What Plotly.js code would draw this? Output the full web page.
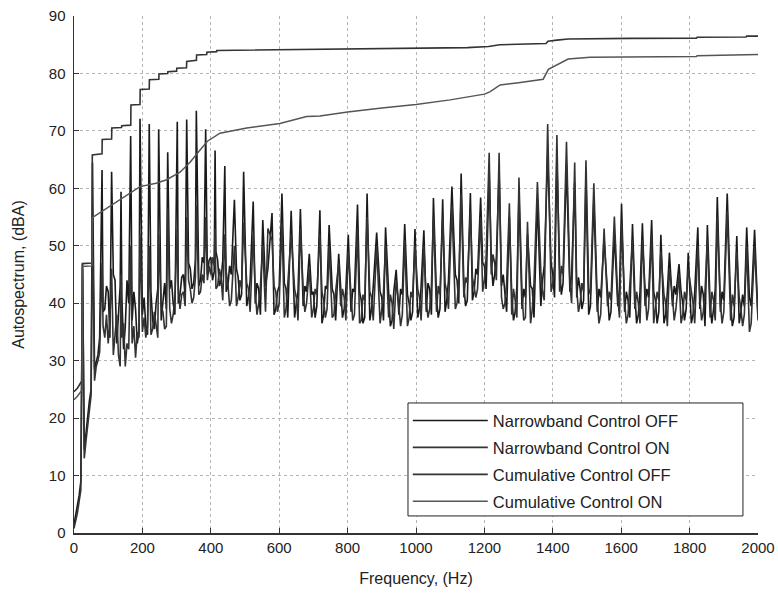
<!DOCTYPE html>
<html>
<head>
<meta charset="utf-8">
<script src="https://cdn.plot.ly/plotly-3.0.1.min.js"></script>
<style>html,body{margin:0;padding:0;background:#fff;}#chart{width:778px;height:596px;}</style>
</head>
<body>
<div id="chart"></div>
<script>
// ---- Data ----
const seriesNames = ["Narrowband Control OFF", "Narrowband Control ON", "Cumulative Control OFF", "Cumulative Control ON"];

// narrowband noise floor: values at 0,10,...,2000 Hz and at the in-between bins 5,15,...,1995 Hz
const binHz = 10;
const floorOff = [
  1.5, 4.8, 9, 14.5, 20.5, 25, 28.5, 31, 36, 39,
  42, 37, 44, 38, 41, 36, 40, 37, 39, 35,
  38, 36, 39.5, 37, 40, 38.5, 41, 39, 42.5, 40,
  44, 41.5, 45, 42.5, 46, 43.5, 46.5, 44, 47, 45,
  48, 45.5, 47.5, 44, 46, 43, 45, 42.5, 44.5, 41.5,
  44, 41, 43.5, 40, 42.5, 39.5, 43, 40.5, 42, 39,
  43, 40, 42.5, 38.5, 41.5, 40, 43.5, 39.5, 42, 38.5,
  42, 39.5, 41, 38, 42.5, 40, 41.5, 38.5, 42, 39,
  41.5, 38.5, 42, 39.5, 40.5, 37.5, 41.5, 39, 42, 38,
  41, 38.5, 42, 37, 40.5, 38, 41.5, 36.5, 40, 38.5,
  42, 39, 41.5, 38.5, 42.5, 40, 41, 39, 43, 40.5,
  43.5, 41, 44, 41.5, 43, 40.5, 44.5, 42, 45, 43,
  46.5, 44, 47.5, 45, 46, 43, 42, 39.5, 41.5, 38.5,
  42, 39, 41, 38, 42.5, 40, 41.5, 44, 45.5, 43,
  45, 42.5, 46, 43.5, 44, 42, 43.5, 41, 42.5, 40.5,
  42, 39.5, 41.5, 38.5, 41, 40, 42, 38.5, 41.5, 39.5,
  41, 38.5, 40.5, 39, 41.5, 38, 40.5, 39.5, 41, 38,
  40.5, 38.5, 41, 38, 40, 39.5, 41.5, 38, 40, 39,
  41, 38, 40.5, 39, 41.5, 37.5, 40, 39, 41, 38.5,
  40.5, 38, 40, 37.5, 40.5, 38.5, 39.5, 37, 39.5, 37.5,
  37.5
];
const midOff = [
  3, 6.5, 12, 17.5, 23, 27, 30, 34, 38.5, 43,
  34, 45, 33, 43, 32, 44, 34, 42, 33, 41,
  41, 34.5, 42, 35.5, 42.5, 37, 43.5, 36.5, 44, 38,
  40, 44.5, 41, 47, 42.5, 47.5, 43, 48, 43.5, 47.5,
  44, 49, 43, 47.5, 42, 46.5, 41.5, 46, 40.5, 45,
  39.5, 44, 38.5, 43.5, 38, 42.5, 38.5, 44, 38, 42,
  38.5, 43.5, 37.5, 42.5, 37.5, 42, 38, 43, 37.5, 41.5,
  37.5, 42.5, 36.5, 43, 38, 42.5, 37, 43, 37.5, 42.5,
  37, 42.5, 37.5, 42, 36.5, 42.5, 37, 43, 37, 42,
  37, 43, 36, 42, 36.5, 42.5, 35.5, 41.5, 37, 41.5,
  37.5, 43, 37, 43.5, 38, 43, 37.5, 43.5, 38.5, 44,
  39.5, 45, 40, 45, 39.5, 45.5, 40.5, 46, 41.5, 47,
  42.5, 48.5, 43, 48, 42, 45, 38.5, 43, 37, 43,
  37.5, 42.5, 36.5, 43, 37.5, 42.5, 39.5, 46.5, 41.5, 47,
  41, 47.5, 41.5, 46, 40.5, 45, 40, 44.5, 39, 43.5,
  38, 43, 37, 42.5, 37.5, 43, 37, 43, 37.5, 42.5,
  37, 42, 37.5, 42.5, 36.5, 42, 37, 42.5, 36.5, 42,
  36.5, 42.5, 36.5, 42, 37, 43, 36.5, 42, 37, 42.5,
  36.5, 42, 37, 43, 36, 42, 36.5, 42.5, 37, 42,
  36, 41.5, 36, 42, 36.5, 41.5, 35.5, 41, 35.5, 36
];
const floorOn = [
  0.8, 3.5, 7.5, 13, 19, 24, 26.5, 30, 33, 34,
  33, 29.5, 35, 31, 34, 29, 32, 33, 30.5, 34,
  35, 34, 37, 35.5, 36.5, 37, 38.5, 36, 39, 38,
  40, 39, 42, 41, 42.5, 41, 44, 42, 43.5, 44,
  45, 46.5, 43, 44.5, 41.5, 43.5, 40.5, 43, 41, 42.5,
  40.5, 42.5, 39, 42, 40, 41.5, 38.5, 41.5, 39.5, 42,
  40, 41.5, 39, 42, 38.5, 41, 39, 42.5, 40, 41,
  39, 41.5, 38.5, 40.5, 39, 42, 38, 40.5, 39.5, 41,
  39.5, 41, 38, 40, 37, 40.5, 38.5, 41, 39, 40,
  39, 40.5, 37.5, 40, 36, 39.5, 38, 40.5, 37.5, 41,
  39.5, 41, 38, 40.5, 39, 42, 38.5, 41.5, 40, 42,
  41, 43, 40, 42.5, 41, 43.5, 41.5, 43, 42.5, 44.5,
  44, 46, 45, 47, 43.5, 41, 40, 42.5, 38, 40.5,
  39.5, 41.5, 37.5, 40.5, 39, 42.5, 43, 42, 44.5, 46,
  43.5, 44.5, 42, 45, 42.5, 43.5, 41, 42.5, 40, 42,
  40, 41.5, 39, 40.5, 38, 41.5, 39.5, 40.5, 38.5, 41,
  39.5, 40.5, 38, 41, 39, 40, 38.5, 41, 39, 40.5,
  39, 40.5, 38.5, 40, 37.5, 41, 39, 40, 38, 40.5,
  39, 40, 38, 41, 38.5, 40, 37.5, 40.5, 39, 40,
  38.5, 40, 37, 39.5, 37.5, 39, 38, 39.5, 36.5, 38,
  37
];
const midOn = [
  2, 5.5, 10.5, 16, 22, 25, 29, 31.5, 36, 38,
  37, 31, 38, 29, 36.5, 33, 29, 36, 35, 31,
  37.5, 36, 34.5, 38.5, 34, 39.5, 35.5, 40, 36.5, 41,
  42.5, 41.5, 39.5, 44, 40, 44.5, 41.5, 45, 41, 46.5,
  48, 42.5, 46, 40.5, 45.5, 39.5, 44.5, 39.5, 44, 39,
  43.5, 38.5, 43, 38, 43, 37.5, 42.5, 37.5, 43, 38.5,
  43, 37.5, 43, 37.5, 42.5, 37, 43.5, 38.5, 42.5, 37.5,
  42.5, 37, 42, 37.5, 42.5, 37.5, 42, 37.5, 42.5, 37,
  42, 37, 42, 36.5, 41.5, 37, 42, 37, 41.5, 36.5,
  42, 36.5, 41.5, 35.5, 41, 36, 42, 36, 42, 37,
  42.5, 37, 42, 37.5, 43, 37.5, 43, 38.5, 43.5, 39,
  44.5, 39, 44, 40, 44.5, 40.5, 44.5, 41, 46, 42,
  48, 43, 48.5, 44, 46, 39, 43.5, 37.5, 42.5, 37.5,
  43, 37, 42, 36.5, 43.5, 39, 45.5, 40.5, 47, 42,
  46.5, 41, 46.5, 41, 45.5, 40, 44.5, 38.5, 43.5, 38.5,
  42.5, 37.5, 42, 36.5, 42.5, 38, 42, 37, 42.5, 37.5,
  42, 36.5, 42.5, 37, 42, 36.5, 42.5, 37, 42, 36.5,
  42, 37, 41.5, 36, 42, 37, 42, 36.5, 42, 37,
  42, 36.5, 42.5, 37, 42, 36, 42, 37, 41.5, 36.5,
  41, 35.5, 41.5, 35.5, 41, 36, 41.5, 35, 40.5, 39
];

// harmonic peaks (Hz) and their levels (dBA)
const harmF = [25, 54, 82, 110, 137.5, 165.7, 193, 220, 247.6, 274, 302, 329.5, 357.7, 385, 412.5, 441, 469, 496,
  524, 552, 567, 579, 608, 635, 662, 688, 719, 746, 774, 802, 829, 857, 885, 911, 942, 967, 997, 1023,
  1051, 1078, 1105, 1132, 1159, 1189, 1214, 1243, 1273, 1301, 1326, 1355, 1385, 1412, 1440, 1464, 1497,
  1520, 1550, 1580, 1601, 1633, 1662, 1689, 1716, 1741, 1769, 1796, 1824, 1852, 1881, 1910, 1938, 1967, 1990];
const peakOff = [46.8, 64.5, 63.2, 62.9, 59.4, 69.1, 72.1, 71.2, 70.3, 66.3, 71.6, 72.0, 73.5, 70.3, 66.6, 63.9, 58.0, 62.9,
  57.7, 54.5, 46, 55.7, 59.1, 56.1, 56.4, 48.6, 56.2, 53.6, 48.6, 51.9, 57.2, 59.1, 52.3, 53.2, 45.8, 53.8, 52.9, 52.7,
  58.3, 58.1, 60.3, 62.6, 59.2, 58.4, 63, 63, 55, 59, 52, 58, 66, 65, 64, 61, 62,
  58, 51, 52, 57.3, 53.8, 53.9, 54.5, 51.9, 48.8, 46.8, 48.8, 53.2, 53.6, 58.5, 59.1, 51.7, 53.2, 52.8];
const peakOn = [46.0, 54, 47, 46, 45, 50, 52, 50, 52, 56.5, 53, 55, 57, 55, 53, 52, 50, 54,
  52, 50, 53, 51, 54, 52, 53, 46, 52, 50, 47, 49, 53, 55, 50, 50, 44, 51, 50, 50,
  55, 55, 57, 59, 56, 55, 66.2, 66.2, 57.4, 61.9, 54.2, 61.1, 71.2, 69.3, 68.1, 64.5, 64.9,
  60.9, 53.0, 55.1, 54, 51, 51, 52, 49, 46, 45, 46, 50, 51, 55, 56, 49, 50, 50];

// cumulative spectra
const cumOffF = [0, 10, 20, 24, 24.5, 53, 53.5, 82, 82.5, 110, 110.5, 139, 139.5, 166, 166.5, 193, 193.5, 220, 220.5,
  248, 248.5, 274, 274.5, 300, 300.5, 329, 329.5, 358, 358.5, 388, 388.5, 417, 417.5, 500, 720, 900, 1000, 1150,
  1212, 1245, 1380, 1386, 1412, 1445, 1626, 1820, 1822, 1965, 1967, 2000];
const cumOff = [24.6, 25.2, 26.2, 26.5, 46.9, 47, 65.8, 66, 68.5, 68.6, 70.5, 70.6, 70.9, 71, 74.5, 74.6, 77.2, 77.3, 78.9,
  79, 79.9, 80, 80.3, 80.4, 80.9, 81, 82.1, 82.3, 83.2, 83.3, 83.7, 83.8, 84, 84.05, 84.2, 84.3, 84.35, 84.5,
  84.7, 85.0, 85.2, 85.6, 85.8, 86.0, 86.1, 86.15, 86.3, 86.35, 86.5, 86.5];
const cumOnF = [0, 10, 20, 24, 24.5, 53, 53.5, 90, 134, 193, 240, 271, 310, 340, 365, 390, 427, 505, 602, 680, 719,
  800, 900, 1000, 1100, 1150, 1200, 1216, 1246, 1300, 1372, 1387, 1411, 1445, 1509, 1626, 1820, 1822, 1889, 1890, 2000];
const cumOn = [23.2, 23.8, 24.6, 25, 46.4, 46.5, 54.9, 56.3, 58, 60.3, 60.9, 61.5, 62.8, 64.6, 66.4, 68.2, 69.6, 70.5, 71.3, 72.5, 72.6,
  73.3, 74.0, 74.6, 75.4, 75.9, 76.4, 76.8, 78.0, 78.4, 79.0, 80.7, 81.5, 82.5, 82.8, 82.9, 82.95, 83.1, 83.15, 83.25, 83.3];

const xTicks = [0, 200, 400, 600, 800, 1000, 1200, 1400, 1600, 1800, 2000];
const yTicks = [0, 10, 20, 30, 40, 50, 60, 70, 80, 90];

// ---- build narrowband lines from floor bins + harmonic peaks ----
// (above ~450 Hz the harmonic peaks in the reference are broader, so more floor bins are covered by each peak)
function buildSpectrum(floorVals, midVals, peakVals) {
  const pts = [];
  const nearPeak = f => harmF.some(h => Math.abs(h - f) < (h > 450 ? 5.5 : 2.5));
  floorVals.forEach((v, i) => { const f = i * binHz; if (!nearPeak(f)) pts.push([f, v]); });
  midVals.forEach((v, i) => { const f = i * binHz + binHz / 2; if (!nearPeak(f)) pts.push([f, v]); });
  harmF.forEach((f, i) => pts.push([f, peakVals[i]]));
  pts.sort((a, b) => a[0] - b[0]);
  return { x: pts.map(p => p[0]), y: pts.map(p => p[1]) };
}
const nbOff = buildSpectrum(floorOff, midOff, peakOff);
const nbOn = buildSpectrum(floorOn, midOn, peakOn);

const FONT = 'Liberation Sans, Arial, Helvetica, sans-serif';

const traces = [
  { x: nbOff.x, y: nbOff.y, name: seriesNames[0], legendgroup: 'a', type: 'scatter', mode: 'lines',
    line: { color: '#1a1a1a', width: 1.6 } },
  { x: nbOn.x, y: nbOn.y, name: seriesNames[1], legendgroup: 'b', type: 'scatter', mode: 'lines',
    line: { color: '#333333', width: 1.6 } },
  { x: cumOffF, y: cumOff, name: seriesNames[2], legendgroup: 'c', type: 'scatter', mode: 'lines',
    line: { color: '#333333', width: 1.6 } },
  { x: cumOnF, y: cumOn, name: seriesNames[3], legendgroup: 'd', type: 'scatter', mode: 'lines',
    line: { color: '#555555', width: 1.5 } }
];

const axisCommon = {
  showline: true, linecolor: '#333', linewidth: 1.5,
  ticks: 'inside', ticklen: 5, tickcolor: '#333', tickwidth: 1,
  showgrid: true, gridcolor: '#b5b5b5', gridwidth: 1, griddash: 'dot',
  zeroline: false, tickfont: { family: FONT, size: 15, color: '#222' }
};

const layout = {
  width: 778, height: 596,
  margin: { l: 74, r: 20, t: 16, b: 63 },
  paper_bgcolor: '#fff', plot_bgcolor: '#fff',
  font: { family: FONT, color: '#222' },
  showlegend: true,
  legend: {
    x: 0.488, y: 0.251, xanchor: 'left', yanchor: 'top',
    bgcolor: 'rgba(0,0,0,0)', borderwidth: 0,
    font: { family: FONT, size: 16.5, color: '#222' },
    itemwidth: 75, tracegroupgap: 2.5
  },
  // legend frame (the legend box in the reference is wider than its entries)
  shapes: [{
    type: 'rect', xref: 'paper', yref: 'paper', layer: 'above',
    x0: 0.4883, x1: 0.978, y0: 0.033, y1: 0.2515,
    line: { color: '#222', width: 1 }, fillcolor: '#ffffff'
  }],
  xaxis: Object.assign({}, axisCommon, {
    range: [0, 2000], tickvals: xTicks, ticktext: xTicks.map(String),
    title: { text: 'Frequency, (Hz)', font: { family: FONT, size: 16, color: '#222' }, standoff: 18 }
  }),
  yaxis: Object.assign({}, axisCommon, {
    range: [0, 90], tickvals: yTicks, ticktext: yTicks.map(String), ticklabelstandoff: 4,
    title: { text: 'Autospectrum, (dBA)', font: { family: FONT, size: 16, color: '#222' }, standoff: 20 }
  })
};

Plotly.newPlot('chart', traces, layout, { displayModeBar: false, staticPlot: true });
</script>
</body>
</html>
